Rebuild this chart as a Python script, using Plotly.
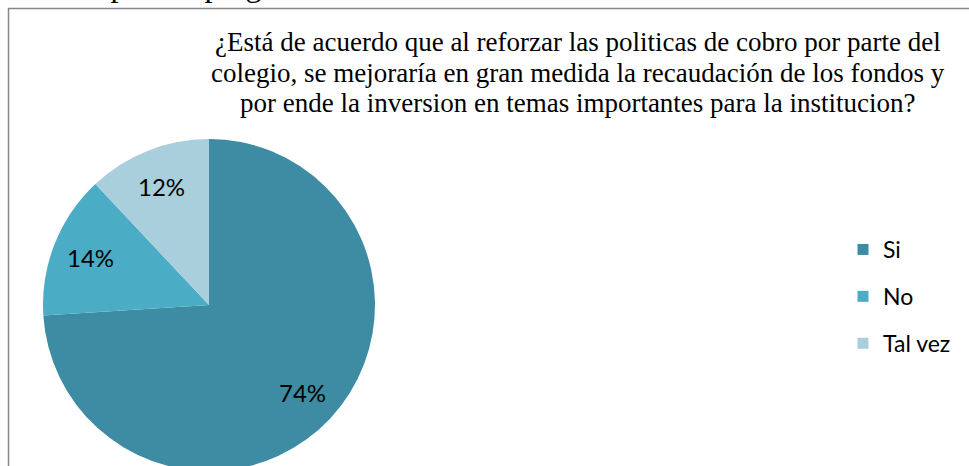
import math
import plotly.graph_objects as go

# Data
labels = ["Si", "No", "Tal vez"]
values = [74, 14, 12]
colors = ["#3D8CA3", "#4BACC6", "#A9CFDC"]
title_lines = [
    "¿Está de acuerdo que al reforzar las politicas de cobro por parte del",
    "colegio, se mejoraría en gran medida la recaudación de los fondos y",
    "por ende la inversion en temas importantes para la institucion?",
]
top_text = "Resultados para la pregunta no."

W, H = 969, 472

def px_x(p):
    return p / W

def px_y(p):
    return (H - p) / H

# pie geometry (pixels)
CX, CY, R = 209, 305, 166
LABEL_FRAC = 0.77

fig = go.Figure()

fig.add_trace(go.Pie(
    labels=labels,
    values=values,
    marker=dict(colors=colors, line=dict(width=0)),
    sort=False,
    direction="clockwise",
    rotation=0,
    textinfo="none",
    showlegend=False,
    hoverinfo="label+percent",
    domain=dict(x=[px_x(CX - R), px_x(CX + R)], y=[px_y(CY + R), px_y(CY - R)]),
))

# legend entries (one per category) drawn via marker-only traces
for lab, col in zip(labels, colors):
    fig.add_trace(go.Scatter(
        x=[None], y=[None], mode="markers", name=lab,
        marker=dict(symbol="square", size=11, color=col),
        legendgroup=lab, showlegend=True,
    ))

fig.update_xaxes(visible=False)
fig.update_yaxes(visible=False)

annotations = []
# percentage labels at the middle angle of each slice
total = sum(values)
cum = 0
for v in values:
    mid = (cum + v / 2) / total * 2 * math.pi
    cum += v
    lx = CX + LABEL_FRAC * R * math.sin(mid)
    ly = CY - LABEL_FRAC * R * math.cos(mid)
    annotations.append(dict(
        text=f"{round(v / total * 100)}%", x=px_x(lx), y=px_y(ly),
        xref="paper", yref="paper", xanchor="center", yanchor="middle",
        showarrow=False, font=dict(family="Lato", size=24, color="#000000")))

title_y = [42, 73, 103]
for line, yy in zip(title_lines, title_y):
    annotations.append(dict(
        text=line, x=px_x(578), y=px_y(yy), xref="paper", yref="paper",
        xanchor="center", yanchor="middle", showarrow=False,
        font=dict(family="Liberation Serif", size=27, color="#000000")))

annotations.append(dict(
    text=top_text, x=px_x(-40), y=px_y(5), xref="paper", yref="paper",
    xanchor="left", yanchor="bottom", showarrow=False, align="left",
    font=dict(family="Liberation Serif", size=32, color="#000000")))

fig.update_layout(
    width=W, height=H,
    margin=dict(l=0, r=0, t=0, b=0),
    paper_bgcolor="white",
    plot_bgcolor="white",
    showlegend=True,
    legend=dict(
        x=px_x(843), y=px_y(228), xanchor="left", yanchor="top",
        font=dict(family="Lato", size=23, color="#000000"),
        traceorder="grouped", tracegroupgap=14,
        bgcolor="rgba(0,0,0,0)", borderwidth=0,
    ),
    annotations=annotations,
    shapes=[
        dict(type="rect", xref="paper", yref="paper",
             x0=px_x(8.5), x1=1.02, y0=-0.02, y1=px_y(8.5),
             line=dict(color="#878787", width=1.5), fillcolor="rgba(0,0,0,0)",
             layer="above"),
    ],
)

fig.write_html("out.html",
               config={"displayModeBar": False},
               post_script="document.body.style.margin='0';document.body.style.overflow='hidden';")
